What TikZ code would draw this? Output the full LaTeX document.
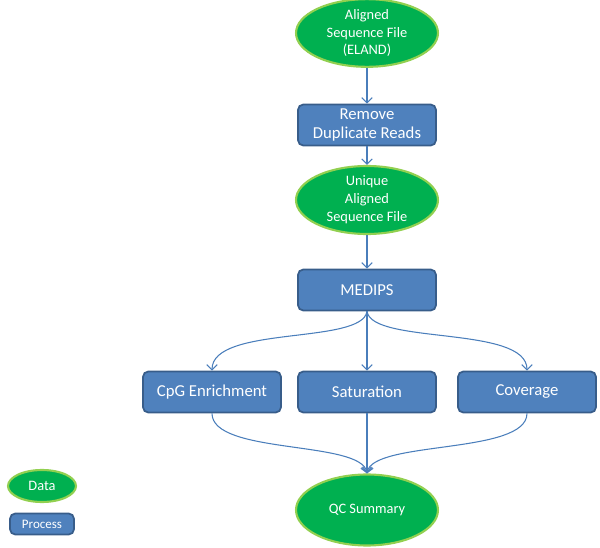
\documentclass[tikz,border=0pt]{standalone}
\usepackage{fontspec}
\setmainfont{Carlito}
\usetikzlibrary{shapes.geometric,arrows.meta}
\definecolor{datagreen}{RGB}{0,176,80}
\definecolor{dataedge}{RGB}{146,208,80}
\definecolor{procblue}{RGB}{79,129,189}
\definecolor{procedge}{RGB}{56,93,138}
\definecolor{linkblue}{RGB}{74,126,187}
\begin{document}
\begin{tikzpicture}[x=0.02cm,y=-0.02cm,
        data/.style={ellipse,draw=dataedge,line width=1.2pt,fill=datagreen,text=white,
            minimum width=2.84cm,minimum height=1.32cm,inner sep=0pt,align=center,
            font=\fontsize{8.2}{10.2}\selectfont},
        proc/.style={rectangle,rounded corners=3pt,draw=procedge,line width=1pt,fill=procblue,text=white,
            minimum width=2.76cm,minimum height=0.82cm,inner sep=0pt,align=center,
            font=\fontsize{9.5}{11.3}\selectfont},
        link/.style={draw=linkblue,line width=0.6pt,-{Straight Barb[length=3pt,width=6pt]}}]
        \useasboundingbox (0,0) rectangle (600,548);
        \node[data] (eland) at (367,33) {Aligned\\Sequence File\\(ELAND)};
        \node[proc] (dedup) at (367,125) {Remove\\Duplicate Reads};
        \node[data] (unique) at (367,200) {Unique\\Aligned\\Sequence File};
        \node[proc] (medips) at (367,290) {MEDIPS};
        \node[proc] (cpg) at (212,392) {CpG Enrichment};
        \node[proc] (sat) at (367,392) {Saturation};
        \node[proc] (cov) at (527,392) {Coverage};
        \node[data,minimum height=1.42cm] (qc) at (367,510) {QC Summary};
        \node[data,minimum width=1.36cm,minimum height=0.64cm] (legdata) at (42,486) {Data};
        \node[proc,minimum width=1.28cm,minimum height=0.42cm,font=\fontsize{7.4}{9}\selectfont] (legproc) at (42,524) {Process};
        \draw[link] (eland)--(dedup);
        \draw[link] (dedup)--(unique);
        \draw[link] (unique)--(medips);
        \draw[link] (medips.south)--(sat.north);
        \draw[link] (medips.south) .. controls (362,345) and (212,325) .. (cpg.north);
        \draw[link] (medips.south) .. controls (372,345) and (527,325) .. (cov.north);
        \draw[link] (sat.south)--(qc.north);
        \draw[link] (cpg.south) .. controls (212,455) and (362,440) .. (qc.north);
        \draw[link] (cov.south) .. controls (527,455) and (372,440) .. (qc.north);
    \end{tikzpicture}
\end{document}
